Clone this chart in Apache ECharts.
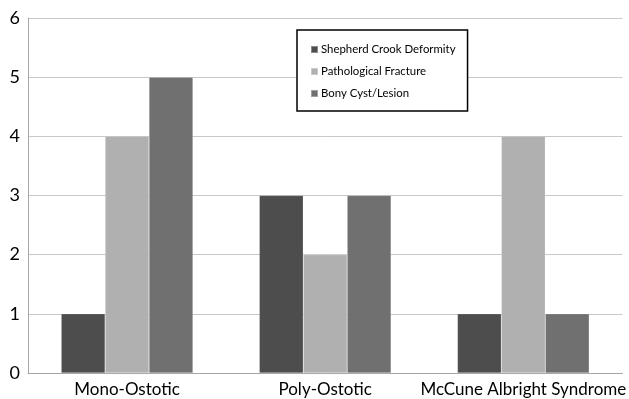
<!DOCTYPE html>
<html><head><meta charset="utf-8">
<script src="https://cdn.jsdelivr.net/npm/echarts@6/dist/echarts.min.js"></script>
<style>html,body{margin:0;padding:0;background:#fff}#c{width:629px;height:399px}</style>
</head><body><div id="c"></div>
<script>
const categories = ['Mono-Ostotic', 'Poly-Ostotic', 'McCune Albright Syndrome'];
const shepherdCrook = [1, 3, 1];
const pathologicalFracture = [4, 2, 4];
const bonyCyst = [5, 3, 1];
const seriesNames = ['Shepherd Crook Deformity', 'Pathological Fracture', 'Bony Cyst/Lesion'];
const colors = ['#4d4d4d', '#b0b0b0', '#707070'];
const yTicks = {min: 0, max: 6, interval: 1};

const chart = echarts.init(document.getElementById('c'));
const mk = (name, data, color) => ({
  name, type: 'bar', data, barGap: '0%', barCategoryGap: '33.5%',
  itemStyle: {color, borderColor: 'rgba(255,255,255,0.35)', borderWidth: 0.5}
});
chart.setOption({
  animation: false,
  textStyle: {fontFamily: 'Lato'},
  grid: {left: 28, right: 5, top: 18, bottom: 26},
  legend: {
    orient: 'vertical', left: 297, top: 30,
    backgroundColor: '#fff', borderColor: '#000', borderWidth: 1.5,
    padding: [14, 12, 12, 13], itemGap: 11,
    itemWidth: 7, itemHeight: 7, icon: 'rect',
    textStyle: {fontSize: 11.4, color: '#000', fontFamily: 'Lato', padding: [0, 0, 0, -2]},
    data: seriesNames
  },
  xAxis: {
    type: 'category', data: categories,
    axisLine: {lineStyle: {color: '#a6a6a6', width: 1}},
    axisTick: {show: false},
    axisLabel: {fontSize: 17, color: '#000', margin: 8, interval: 0}
  },
  yAxis: {
    type: 'value', min: yTicks.min, max: yTicks.max, interval: yTicks.interval,
    axisLine: {show: true, lineStyle: {color: '#a6a6a6', width: 1}},
    axisTick: {show: false},
    splitLine: {lineStyle: {color: '#c8c8c8', width: 1}},
    axisLabel: {fontSize: 18, color: '#000', margin: 8}
  },
  series: [
    mk(seriesNames[0], shepherdCrook, colors[0]),
    mk(seriesNames[1], pathologicalFracture, colors[1]),
    mk(seriesNames[2], bonyCyst, colors[2])
  ]
});
</script></body></html>
